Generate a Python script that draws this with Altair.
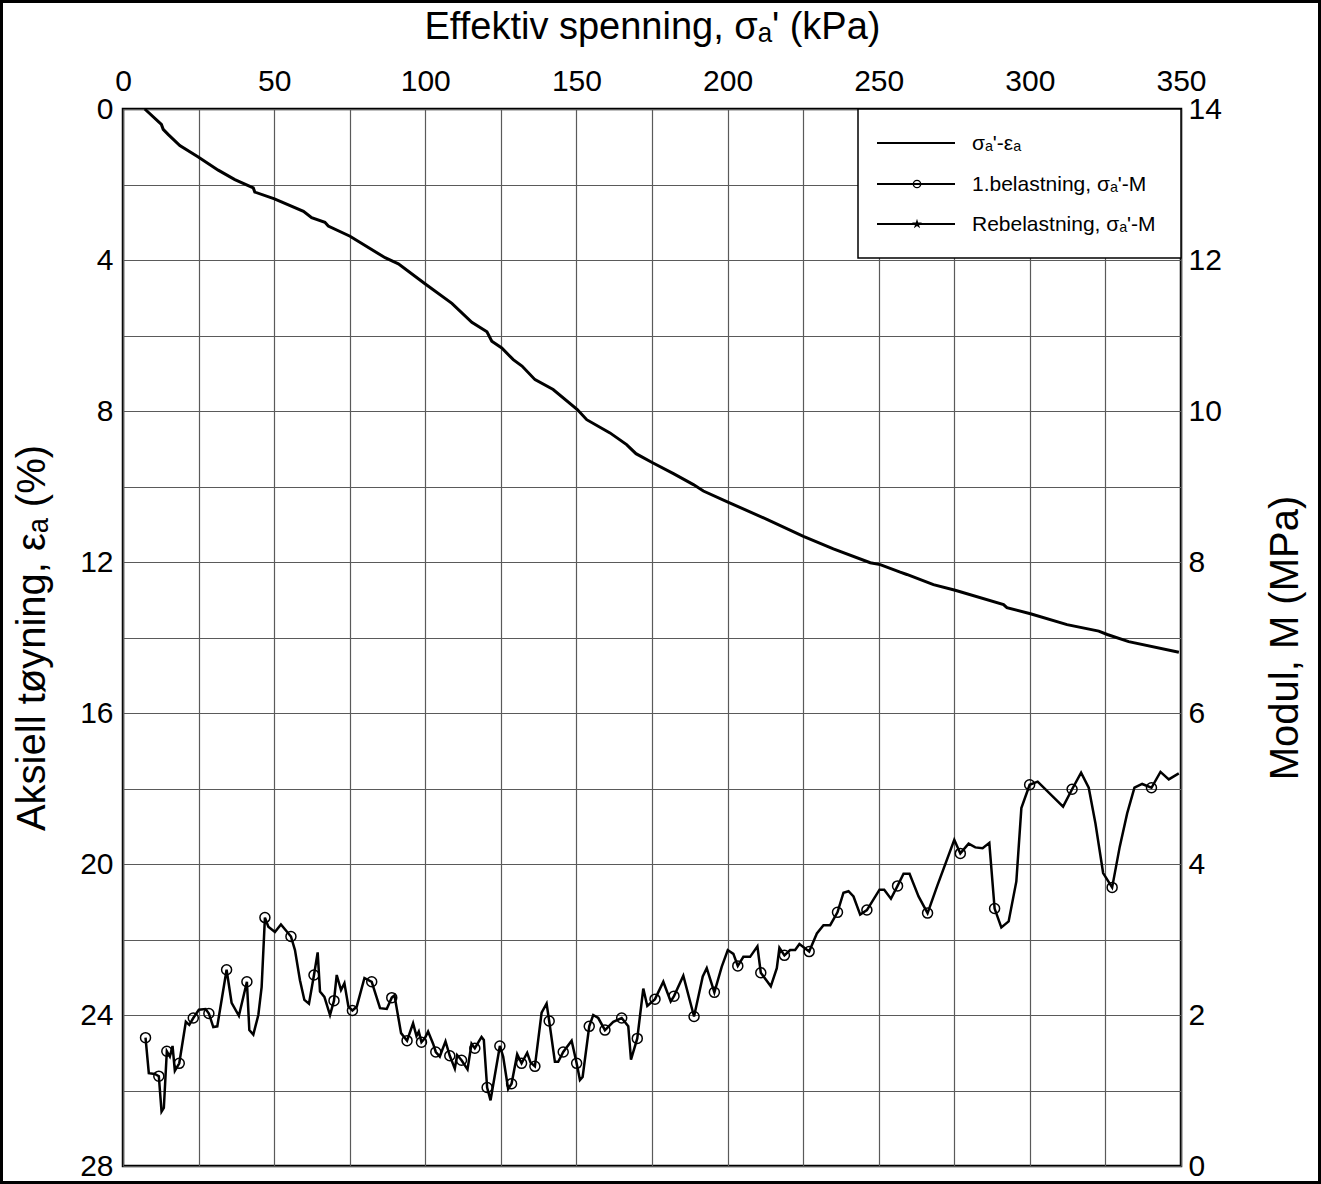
import altair as alt
import pandas as pd

# ---------------- data ----------------
strain_kpa = [7.2, 12.7, 13.3, 15.0, 18.8, 24.9, 31.5, 37.0, 43.1, 43.6, 50.1, 59.7, 62.4,
              66.8, 67.9, 75.1, 86.7, 91.1, 99.9, 108.8, 115.4, 120.4, 122.0, 125.3, 129.1,
              132.0, 136.3, 142.3, 150.3, 153.4, 161.1, 166.6, 169.7, 175.2, 182.1, 188.7,
              192.0, 200.3, 213.0, 225.1, 235.0, 247.2, 250.5, 257.1, 259.3, 268.1, 275.3,
              291.3, 292.4, 300.2, 312.3, 322.8, 325.6, 332.7, 349.3]
strain_pct = [0.0, 0.41, 0.54, 0.68, 0.97, 1.27, 1.62, 1.87, 2.09, 2.20, 2.38, 2.71, 2.88,
              3.00, 3.10, 3.37, 3.94, 4.10, 4.63, 5.15, 5.65, 5.90, 6.15, 6.33, 6.64,
              6.81, 7.17, 7.43, 7.96, 8.23, 8.58, 8.89, 9.13, 9.37, 9.66, 9.95,
              10.12, 10.42, 10.87, 11.32, 11.65, 12.02, 12.07, 12.27, 12.33, 12.60, 12.75,
              13.13, 13.21, 13.37, 13.66, 13.83, 13.92, 14.11, 14.39]

mod_kpa = [7.45, 8.54, 10.53, 11.85, 12.75, 13.51, 14.50, 15.50, 16.39, 17.15, 18.61, 20.79,
           21.92, 23.25, 25.10, 27.32, 28.41, 29.87, 31.19, 34.27, 35.93, 38.34, 40.99, 41.79,
           43.11, 44.77, 45.86, 46.95, 48.08, 50.26, 52.25, 55.56, 56.89, 58.54, 60.0, 61.52,
           63.18, 64.40, 65.17, 66.62, 68.48, 69.80, 70.70, 72.12, 73.25, 74.57, 75.89, 77.32,
           79.87, 82.28, 85.03, 87.25, 88.91, 89.80, 91.99, 93.97, 95.96, 97.09, 97.85, 98.74,
           99.83, 100.93, 102.58, 103.48, 104.80, 106.69, 108.11, 109.77, 110.53, 111.99,
           113.97, 115.30, 116.39, 118.61, 119.37, 120.46, 121.59, 124.67, 125.76, 127.42,
           128.54, 130.40, 131.85, 133.71, 134.83, 136.26, 138.48, 140.13, 140.99, 142.88,
           143.97, 145.63, 148.41, 150.07, 151.16, 152.05, 154.24, 155.56, 157.22, 159.44,
           162.19, 164.97, 167.15, 168.05, 170.13, 172.12, 173.44, 175.99, 178.74, 181.19,
           182.28, 185.36, 188.91, 191.79, 193.11, 195.63, 198.08, 200.07, 201.92, 203.38,
           205.23, 207.45, 209.87, 210.99, 214.30, 216.29, 217.15, 218.81, 220.70, 222.35,
           223.77, 226.99, 229.54, 231.72, 233.94, 236.36, 238.34, 240.0, 241.66, 243.87,
           246.09, 250.26, 251.82, 254.04, 256.23, 258.21, 260.20, 263.18, 266.16, 269.27,
           275.0, 277.0, 279.74, 281.95, 284.37, 286.59, 288.34, 290.56, 292.98, 295.53,
           297.19, 299.93, 302.58, 310.99, 313.97, 316.95, 319.47, 321.69, 324.24, 327.22,
           329.74, 332.19, 334.60, 337.15, 340.23, 343.21, 345.96, 349.27]
mod_mpa = [1.70, 1.23, 1.22, 1.19, 0.72, 0.77, 1.52, 1.45, 1.59, 1.26, 1.36, 1.91,
           1.87, 1.96, 2.07, 2.08, 2.02, 1.84, 1.85, 2.60, 2.16, 1.99, 2.44, 1.80,
           1.74, 2.00, 2.37, 3.29, 3.17, 3.10, 3.20, 3.04, 2.86, 2.46, 2.20, 2.15,
           2.53, 2.83, 2.31, 2.24, 2.00, 2.19, 2.53, 2.33, 2.42, 2.11, 2.06, 2.11,
           2.49, 2.44, 2.09, 2.08, 2.23, 2.26, 1.76, 1.66, 1.89, 1.72, 1.78, 1.64,
           1.69, 1.78, 1.62, 1.51, 1.45, 1.65, 1.46, 1.29, 1.47, 1.40,
           1.28, 1.62, 1.56, 1.71, 1.67, 1.04, 0.87, 1.59, 1.45, 1.02,
           1.09, 1.48, 1.36, 1.50, 1.37, 1.32, 2.03, 2.15, 1.92, 1.38,
           1.38, 1.51, 1.66, 1.36, 1.14, 1.18, 1.85, 2.00, 1.96, 1.80,
           1.91, 1.96, 1.85, 1.41, 1.69, 2.35, 2.12, 2.21, 2.44, 2.18,
           2.25, 2.52, 1.98, 2.51, 2.62, 2.30, 2.64, 2.86, 2.81, 2.65,
           2.77, 2.77, 2.91, 2.56, 2.38, 2.62, 2.89, 2.79, 2.86, 2.86,
           2.94, 2.84, 3.08, 3.19, 3.19, 3.36, 3.62, 3.64, 3.57, 3.33,
           3.39, 3.66, 3.66, 3.54, 3.71, 3.87, 3.87, 3.57, 3.35, 3.70,
           4.32, 4.14, 4.27, 4.22, 4.21, 4.28, 3.41, 3.16, 3.24, 3.77,
           4.74, 5.05, 5.09, 4.76, 4.99, 5.21, 5.01, 4.54, 3.88, 3.69,
           4.23, 4.67, 5.01, 5.06, 5.01, 5.22, 5.12, 5.20]
mod_marker = [1, 0, 0, 1, 0, 0, 1, 0, 0, 0, 1, 0,
              0, 1, 0, 0, 1, 0, 0, 1, 0, 0, 1, 0,
              0, 0, 0, 1, 0, 0, 0, 1, 0, 0, 0, 0,
              1, 0, 0, 0, 0, 1, 0, 0, 0, 0, 1, 0,
              0, 1, 0, 0, 1, 0, 0, 1, 0, 0, 0, 1,
              0, 0, 0, 1, 0, 0, 1, 0, 0, 1,
              0, 0, 1, 0, 0, 1, 0, 1, 0, 0,
              1, 0, 1, 0, 0, 1, 0, 0, 1, 0,
              0, 1, 0, 1, 0, 0, 1, 0, 0, 1,
              0, 1, 0, 0, 1, 0, 0, 1, 0, 0,
              1, 0, 1, 0, 0, 1, 0, 0, 0, 1,
              0, 0, 0, 1, 0, 0, 0, 1, 0, 0,
              0, 1, 0, 0, 0, 1, 0, 0, 0, 0,
              1, 0, 0, 0, 1, 0, 0, 0, 1, 0,
              0, 1, 0, 0, 0, 0, 1, 0, 0, 0,
              0, 1, 0, 0, 1, 0, 0, 0, 0, 1,
              0, 0, 0, 0, 1, 0, 0, 0]

legend_labels = ["σₐ'-εₐ", "1.belastning, σₐ'-M", "Rebelastning, σₐ'-M"]
x_ticks = list(range(0, 351, 25))
left_ticks = list(range(0, 29, 2))
right_ticks = list(range(0, 15, 2))

FONT = "Liberation Sans"
W, H = 1058, 1057
PAD_L, PAD_T = 123, 109
STAR = ("M0,-1L0.2245,-0.309L0.951,-0.309L0.363,0.118L0.588,0.809L0,0.382"
        "L-0.588,0.809L-0.363,0.118L-0.951,-0.309L-0.2245,-0.309Z")

strain_df = pd.DataFrame({"kPa": strain_kpa, "eps": strain_pct})
mod_df = pd.DataFrame({"kPa": mod_kpa, "M": mod_mpa, "marker": mod_marker})
one = pd.DataFrame({"a": [0]})

xscale = alt.Scale(domain=[0, 350], nice=False, zero=False)
xaxis = alt.Axis(orient="top", values=x_ticks,
                 labelExpr="datum.value % 50 == 0 ? datum.label : ''",
                 grid=True, gridColor="#5a5a5a", gridWidth=1.2, ticks=False, domain=False,
                 labelFont=FONT, labelFontSize=30, labelColor="black", labelPadding=13,
                 labelFlush=False, labelOverlap=False,
                 title="Effektiv spenning, σₐ'  (kPa)", titleFont=FONT, titleFontSize=38,
                 titleFontWeight="normal", titleColor="black", titlePadding=20)

yl_axis = alt.Axis(orient="left", values=left_ticks,
                   labelExpr="datum.value % 4 == 0 ? datum.label : ''",
                   grid=True, gridColor="#5a5a5a", gridWidth=1.2, ticks=False, domain=False,
                   labelFont=FONT, labelFontSize=30, labelColor="black", labelPadding=10,
                   labelOverlap=False,
                   title="Aksiell tøyning, εₐ  (%)", titleFont=FONT, titleFontSize=40,
                   titleFontWeight="normal", titleColor="black", titlePadding=27)

yr_axis = alt.Axis(orient="right", values=right_ticks, grid=False, ticks=False, domain=False,
                   labelFont=FONT, labelFontSize=30, labelColor="black", labelPadding=7,
                   labelOverlap=False,
                   title="Modul, M  (MPa)", titleFont=FONT, titleFontSize=40,
                   titleFontWeight="normal", titleColor="black", titlePadding=44,
                   titleAngle=270, titleBaseline="top")

mscale = alt.Scale(domain=[0, 14], nice=False, zero=False)

strain_line = alt.Chart(strain_df).mark_line(color="black", strokeWidth=3).encode(
    x=alt.X("kPa:Q", scale=xscale, axis=xaxis),
    y=alt.Y("eps:Q", scale=alt.Scale(domain=[0, 28], reverse=True, nice=False, zero=False),
            axis=yl_axis),
)

mod_line = alt.Chart(mod_df).mark_line(color="black", strokeWidth=2.5).encode(
    x=alt.X("kPa:Q", scale=xscale, axis=xaxis),
    y=alt.Y("M:Q", scale=mscale, axis=yr_axis),
)
mod_pts = alt.Chart(mod_df).transform_filter("datum.marker == 1").mark_point(
    shape="circle", filled=False, color="black", size=100, strokeWidth=1.5, opacity=1
).encode(
    x=alt.X("kPa:Q", scale=xscale, axis=xaxis),
    y=alt.Y("M:Q", scale=mscale, axis=yr_axis),
)
mod_layer = alt.layer(mod_line, mod_pts)

# ---------------- legend (drawn manually) ----------------
box = alt.Chart(one).mark_rect(fill="white", stroke="black", strokeWidth=1.5).encode(
    x=alt.value(735), x2=alt.value(W), y=alt.value(0), y2=alt.value(149))
rows_y = [34, 75, 115]
legend_layers = [box]
for i, lab in enumerate(legend_labels):
    legend_layers.append(alt.Chart(one).mark_rule(color="black", strokeWidth=2.2 if i == 0 else 1.8).encode(
        x=alt.value(754), x2=alt.value(832), y=alt.value(rows_y[i])))
    legend_layers.append(alt.Chart(one).mark_text(
        text=lab, font=FONT, fontSize=21, align="left", baseline="middle", color="black").encode(
        x=alt.value(849), y=alt.value(rows_y[i] + 1)))
legend_layers.append(alt.Chart(one).mark_point(shape="circle", filled=False, color="black",
                                                size=55, strokeWidth=1.3, opacity=1).encode(
    x=alt.value(794), y=alt.value(rows_y[1])))
legend_layers.append(alt.Chart(one).mark_point(shape=STAR, filled=True, color="black",
                                                size=110, opacity=1).encode(
    x=alt.value(794), y=alt.value(rows_y[2])))

frame = alt.Chart(one).mark_rect(filled=False, stroke="black", strokeWidth=3).encode(
    x=alt.value(-PAD_L + 1.5), x2=alt.value(1321 - PAD_L - 1.5),
    y=alt.value(-PAD_T + 1.5), y2=alt.value(1184 - PAD_T - 1.5))

chart = alt.layer(strain_line, mod_layer, *legend_layers, frame).resolve_scale(
    y="independent"
).properties(
    width=W, height=H,
    padding={"left": PAD_L, "top": PAD_T, "right": 1321 - PAD_L - W, "bottom": 1184 - PAD_T - H},
    autosize=alt.AutoSizeParams(type="none"),
    background="white",
).configure_view(stroke="black", strokeWidth=2.5)

chart.save("out.html", embed_options={"renderer": "svg", "actions": False})
